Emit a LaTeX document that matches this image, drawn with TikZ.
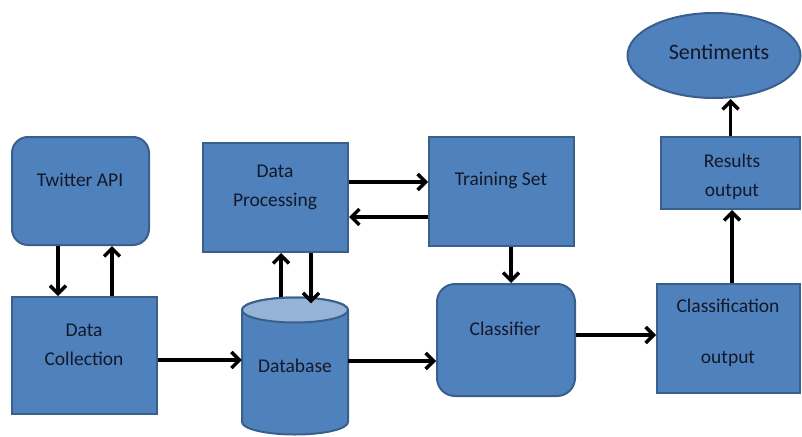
\documentclass[tikz,border=0pt]{standalone}
\usepackage{fontspec}
\setmainfont{Carlito}
\usetikzlibrary{arrows.meta,calc,shapes.geometric}
\definecolor{boxfill}{HTML}{4F81BD}
\definecolor{boxline}{HTML}{3A5F8C}
\definecolor{captop}{HTML}{95B3D7}
\definecolor{ink}{HTML}{141828}

\begin{document}
\begin{tikzpicture}[x=1pt,y=-1pt,
  blockbox/.style={draw=boxline, line width=2pt, fill=boxfill, rectangle, inner sep=0pt},
  roundbox/.style={blockbox, rounded corners=16pt},
  lbl/.style={font=\fontsize{19.5}{29}\selectfont, text=ink, align=center, inner sep=0pt},
  flow/.style={line width=3.4pt, draw=black, -{Straight Barb[length=8pt,width=16pt]}}]

\useasboundingbox (0,0) rectangle (802,436);

% blocks
\node[roundbox, minimum width=137pt, minimum height=108pt] (twitter) at (80.5,191) {};
\node[blockbox, minimum width=145pt, minimum height=117pt] (collect) at (84.5,355.5) {};
\node[blockbox, minimum width=145pt, minimum height=109pt] (process) at (275.5,197.5) {};
\node[blockbox, minimum width=145pt, minimum height=109pt] (train) at (501.5,191.5) {};
\node[roundbox, rounded corners=18pt, minimum width=138pt, minimum height=112pt] (classifier) at (506,340) {};
\node[blockbox, minimum width=143pt, minimum height=109pt] (classout) at (728.5,338.5) {};
\node[blockbox, minimum width=139pt, minimum height=72pt] (results) at (730.5,173) {};
\node[blockbox, ellipse, minimum width=173pt, minimum height=85pt] (sentiments) at (714,55.5) {};

% database cylinder
\node[draw=none, minimum width=106pt, minimum height=137pt, inner sep=0pt] (db) at (295,366) {};
\draw[draw=boxline, line width=2pt, fill=boxfill]
  (242,310) -- (242,422) arc[start angle=180, end angle=0, x radius=53, y radius=12.5]
  -- (348,310) arc[start angle=0, end angle=-180, x radius=53, y radius=12.5] -- cycle;
\draw[draw=boxline, line width=2pt, fill=captop] (295,310) ellipse[x radius=53, y radius=12.5];

% labels
\node[lbl] at (80,180) {Twitter API};
\node[lbl] at (84,345) {Data\\Collection};
\node[lbl] at (275,187) {Data\\Processing};
\node[lbl] at (295,366) {Database};
\node[lbl] at (501,180) {Training Set};
\node[lbl] at (505,329) {Classifier};
\node[lbl] at (728,333) {Classification\\[22pt]output};
\node[lbl] at (732,177) {Results\\output};
\node[lbl, font=\fontsize{22}{29}\selectfont] at (719,52) {Sentiments};

% connectors (yshift is measured upwards on the page)
\draw[flow] ([xshift=-22.5pt]twitter.south) -- ([xshift=-22.5pt]twitter.south |- collect.north);
\draw[flow] ([xshift=27.5pt]collect.north) -- ([xshift=27.5pt]collect.north |- twitter.south);
\draw[flow] ([yshift=-4.5pt]collect.east) -- (db.west |- {(0,360)});
\draw[flow] ([xshift=-14pt]db.north) -- ([xshift=-14pt]db.north |- process.south);
\draw[flow] ([xshift=16pt]db.north |- process.south) -- ([xshift=16pt,yshift=-6pt]db.north);
\draw[flow] ([yshift=15.5pt]process.east) -- ([yshift=9.5pt]train.west);
\draw[flow] ([yshift=-25.5pt]train.west) -- ([yshift=-19.5pt]process.east);
\draw[flow] ([xshift=9.5pt]train.south) -- ([xshift=9.5pt]train.south |- classifier.north);
\draw[flow] (db.east |- {(0,361)}) -- (classifier.west |- {(0,361)});
\draw[flow] ([yshift=5pt]classifier.east) -- (classout.west |- {(0,335)});
\draw[flow] ([xshift=3.5pt]classout.north) -- ([xshift=3.5pt]classout.north |- results.south);
\draw[flow] (results.north) -- (results.north |- sentiments.south);
\end{tikzpicture}
\end{document}
